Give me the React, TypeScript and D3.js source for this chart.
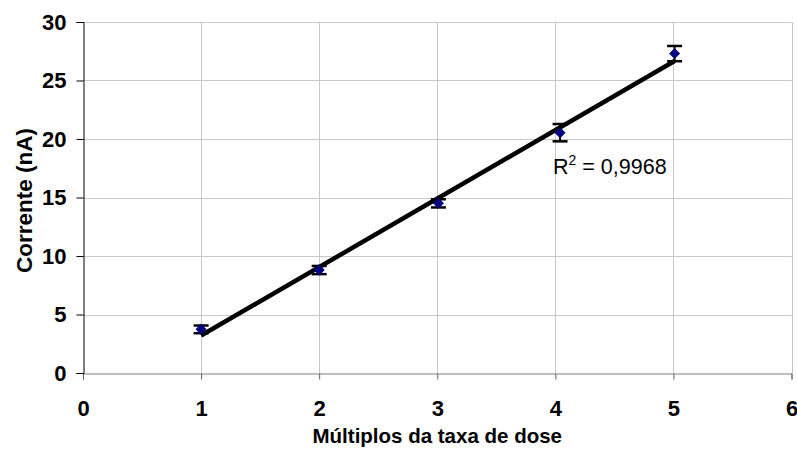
import React, { useRef, useEffect } from 'react';
import * as d3 from 'd3';

const doses = [1, 2, 3.01, 4.04, 5.01];
const currents = [3.73, 8.8, 14.5, 20.54, 27.3];
const errors = [0.33, 0.35, 0.35, 0.74, 0.65];
const xTicks = [0, 1, 2, 3, 4, 5, 6];
const yTicks = [0, 5, 10, 15, 20, 25, 30];
const r2Label = '0,9968';

const W = 797;
const H = 454;
const FONT = '"Liberation Sans", Arial, sans-serif';

const App = () => {
  const svgRef = useRef<SVGSVGElement>(null);

  useEffect(() => {
    const svg = d3.select(svgRef.current);
    svg.selectAll('*').remove();

    const x = d3.scaleLinear().domain([0, 6]).range([83, 791.5]);
    const y = d3.scaleLinear().domain([0, 30]).range([373, 22]);

    const g = svg.append('g');

    // grid
    g.selectAll('.hgrid')
      .data(yTicks.filter(d => d > 0))
      .enter()
      .append('line')
      .attr('x1', x(0))
      .attr('x2', x(6))
      .attr('y1', d => Math.round(y(d)) + 0.5)
      .attr('y2', d => Math.round(y(d)) + 0.5)
      .style('stroke', '#c8c8c8')
      .style('stroke-width', 1);

    g.selectAll('.vgrid')
      .data(xTicks.filter(d => d > 0))
      .enter()
      .append('line')
      .attr('x1', d => Math.round(x(d)) + 0.5)
      .attr('x2', d => Math.round(x(d)) + 0.5)
      .attr('y1', y(30))
      .attr('y2', y(0))
      .style('stroke', '#c8c8c8')
      .style('stroke-width', 1);

    // axes
    const xAxis = g.append('g').attr('transform', `translate(0, ${Math.round(y(0)) + 0.5})`)
      .call(d3.axisBottom(x).tickValues(xTicks).tickSize(6).tickPadding(21).tickFormat(d3.format('d')));
    xAxis.select('.domain').style('stroke', '#808080');
    xAxis.selectAll('.tick line').style('stroke', '#606060');

    const yAxis = g.append('g').attr('transform', `translate(${Math.round(x(0)) + 0.5}, 0)`)
      .call(d3.axisLeft(y).tickValues(yTicks).tickSize(7).tickPadding(10).tickFormat(d3.format('d')));
    yAxis.select('.domain').style('stroke', '#000');
    yAxis.selectAll('.tick line').style('stroke', '#000');

    svg.selectAll('.tick text')
      .style('font-family', FONT)
      .style('font-size', '22px')
      .style('font-weight', 'bold')
      .style('fill', '#000');

    // trend line (least squares)
    const mx = d3.mean(doses)!;
    const my = d3.mean(currents)!;
    const sxy = d3.sum(doses, (d, i) => (d - mx) * (currents[i] - my));
    const sxx = d3.sum(doses, d => (d - mx) * (d - mx));
    const slope = sxy / sxx;
    const intercept = my - slope * mx;
    const xExt = d3.extent(doses) as [number, number];

    g.append('line')
      .attr('x1', x(xExt[0]))
      .attr('y1', y(slope * xExt[0] + intercept))
      .attr('x2', x(xExt[1]))
      .attr('y2', y(slope * xExt[1] + intercept))
      .style('stroke', '#000')
      .style('stroke-width', 4.5);

    // error bars
    const pts = doses.map((d, i) => ({ x: d, y: currents[i], e: errors[i] }));
    const eb = g.selectAll('.eb').data(pts).enter().append('g');
    eb.append('line')
      .attr('x1', d => x(d.x)).attr('x2', d => x(d.x))
      .attr('y1', d => y(d.y - d.e)).attr('y2', d => y(d.y + d.e))
      .style('stroke', '#000').style('stroke-width', 2);
    [-1, 1].forEach(s => {
      eb.append('line')
        .attr('x1', d => x(d.x) - 7.5).attr('x2', d => x(d.x) + 7.5)
        .attr('y1', d => y(d.y + s * d.e)).attr('y2', d => y(d.y + s * d.e))
        .style('stroke', '#000').style('stroke-width', 2.5);
    });

    // markers
    g.selectAll('.pt').data(pts).enter().append('path')
      .attr('transform', d => `translate(${x(d.x)}, ${y(d.y)})`)
      .attr('d', 'M0,-5.5L5.5,0L0,5.5L-5.5,0Z')
      .style('fill', '#000080');

    // R² label
    const lbl = g.append('text')
      .attr('x', 553)
      .attr('y', 174)
      .style('font-family', FONT)
      .style('font-size', '21.5px')
      .style('fill', '#000');
    lbl.append('tspan').text('R');
    lbl.append('tspan').attr('dy', -9).style('font-size', '14px').text('2');
    lbl.append('tspan').attr('dy', 9).text(` = ${r2Label}`);

    // axis titles
    g.append('text')
      .attr('x', (x(0) + x(6)) / 2)
      .attr('y', 443)
      .attr('text-anchor', 'middle')
      .style('font-family', FONT)
      .style('font-size', '20.5px')
      .style('font-weight', 'bold')
      .text('Múltiplos da taxa de dose');

    g.append('text')
      .attr('transform', `translate(32, ${(y(0) + y(30)) / 2 + 3}) rotate(-90)`)
      .attr('text-anchor', 'middle')
      .style('font-family', FONT)
      .style('font-size', '22.5px')
      .style('font-weight', 'bold')
      .text('Corrente (nA)');
  }, []);

  return (
    <div style={{ position: 'absolute', left: 0, top: 0 }}>
      <svg ref={svgRef} width={W} height={H} style={{ display: 'block', background: 'white' }}></svg>
    </div>
  );
};

export default App;
